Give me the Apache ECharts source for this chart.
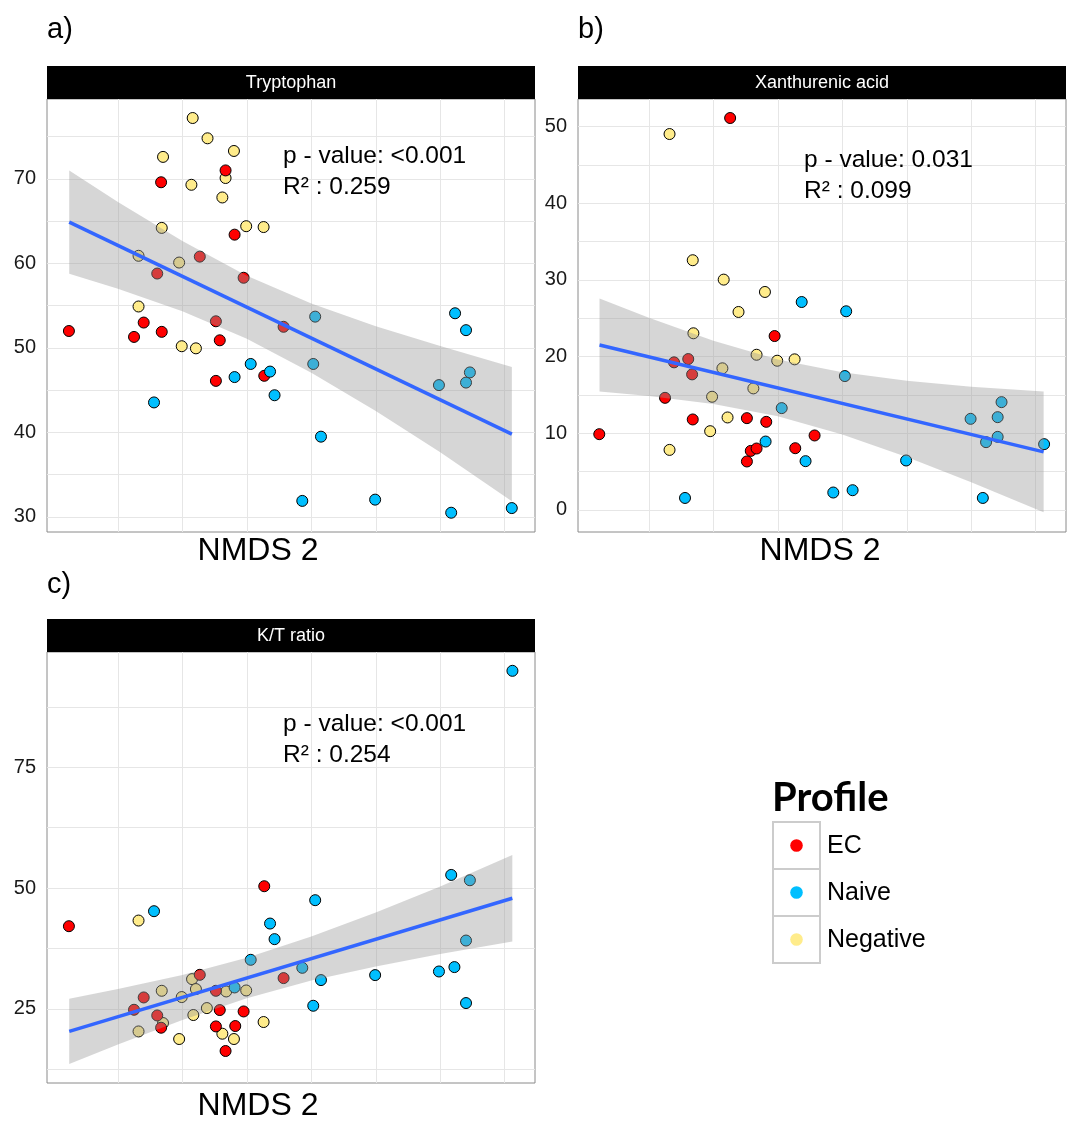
<!DOCTYPE html>
<html lang="en">
<head>
<meta charset="UTF-8">
<title>NMDS 2 vs metabolites</title>
<style>
  html, body { margin: 0; padding: 0; background: #fff; }
  #chart { width: 1072px; height: 1122px; }
</style>
</head>
<body>
<div id="chart"></div>
<script src="https://cdn.jsdelivr.net/npm/echarts@6.0.0/dist/echarts.min.js"></script>
<script>
// profiles + colours
var profiles = ['EC', 'Naive', 'Negative'];
var profileColors = ['#ff0000', '#00bfff', '#ffec8b'];

// x grid breaks (NMDS 2), no tick labels on x
var xBreaks = [-0.3, -0.2, -0.1, 0, 0.1, 0.2, 0.3];

// ---- a) Tryptophan ----
var trpEC = [[-0.133, 71.0], [-0.233, 69.6], [-0.119, 63.4], [-0.173, 60.8], [-0.239, 58.8], [-0.105, 58.3],
  [-0.260, 53.0], [-0.376, 52.0], [-0.275, 51.3], [-0.232, 51.9], [-0.148, 53.15], [-0.142, 50.9],
  [-0.043, 52.5], [-0.148, 46.1], [-0.073, 46.7]];
var trpNaive = [[0.223, 54.1], [0.240, 52.1], [0.006, 53.7], [0.003, 48.1], [-0.094, 48.1], [-0.064, 47.2],
  [-0.119, 46.55], [-0.057, 44.4], [-0.244, 43.55], [0.198, 45.6], [0.240, 45.9], [0.246, 47.1],
  [0.015, 39.5], [-0.014, 31.9], [0.099, 32.05], [0.217, 30.5], [0.311, 31.05]];
var trpNeg = [[-0.184, 77.2], [-0.161, 74.8], [-0.120, 73.3], [-0.230, 72.6], [-0.133, 70.1], [-0.186, 69.3],
  [-0.138, 67.8], [-0.232, 64.2], [-0.101, 64.4], [-0.074, 64.3], [-0.268, 60.9], [-0.205, 60.1],
  [-0.268, 54.9], [-0.201, 50.2], [-0.179, 49.95]];
var trpFit = [[-0.3755, 64.88], [0.3111, 39.8]];
var trpBandX = [-0.3755, -0.3, -0.2, -0.1, 0, 0.1, 0.2, 0.3111];
var trpUpper = [71.0, 67.27, 62.65, 58.55, 55.24, 52.57, 50.22, 47.74];
var trpLower = [58.77, 56.99, 54.34, 51.09, 47.06, 42.55, 37.67, 31.86];
var trpYBreaks = [30, 35, 40, 45, 50, 55, 60, 65, 70, 75];
var trpYLabels = [30, 40, 50, 60, 70];

// ---- b) Xanthurenic acid ----
var xaEC = [[-0.174, 51.1], [-0.105, 22.66], [-0.261, 19.23], [-0.239, 19.66], [-0.233, 17.66], [-0.275, 14.6],
  [-0.377, 9.86], [-0.232, 11.78], [-0.148, 11.95], [-0.118, 11.47], [-0.043, 9.69], [-0.142, 7.68],
  [-0.133, 7.99], [-0.148, 6.3], [-0.073, 8.03]];
var xaNaive = [[-0.063, 27.1], [0.006, 25.89], [0.004, 17.44], [-0.094, 13.26], [-0.119, 8.9], [-0.057, 6.34],
  [-0.244, 1.54], [-0.014, 2.25], [0.016, 2.55], [0.099, 6.43], [0.199, 11.86], [0.247, 14.04],
  [0.241, 12.08], [0.241, 9.51], [0.223, 8.82], [0.218, 1.54], [0.313, 8.56]];
var xaNeg = [[-0.268, 49.01], [-0.232, 32.55], [-0.184, 30.02], [-0.120, 28.41], [-0.161, 25.8], [-0.231, 23.02],
  [-0.133, 20.22], [-0.101, 19.44], [-0.074, 19.62], [-0.186, 18.45], [-0.138, 15.83], [-0.202, 14.74],
  [-0.178, 12.04], [-0.205, 10.25], [-0.268, 7.81]];
var xaFit = [[-0.3766, 21.49], [0.3123, 7.55]];
var xaBandX = [-0.3766, -0.3, -0.2, -0.1, 0, 0.1, 0.2, 0.3123];
var xaUpper = [27.55, 25.06, 22.04, 19.61, 17.94, 16.83, 16.05, 15.43];
var xaLower = [15.43, 14.84, 13.78, 12.19, 9.81, 6.87, 3.59, -0.33];
var xaYBreaks = [0, 5, 10, 15, 20, 25, 30, 35, 40, 45, 50];
var xaYLabels = [0, 10, 20, 30, 40, 50];

// ---- c) K/T ratio ----
var ktEC = [[-0.376, 42.1], [-0.073, 50.38], [-0.043, 31.35], [-0.173, 32.03], [-0.148, 28.72], [-0.260, 27.34],
  [-0.275, 24.79], [-0.239, 23.61], [-0.142, 24.73], [-0.105, 24.44], [-0.233, 21.07], [-0.148, 21.34],
  [-0.118, 21.42], [-0.133, 16.25]];
var ktNaive = [[0.312, 95.0], [0.217, 52.72], [0.246, 51.62], [0.006, 47.49], [-0.244, 45.21], [-0.064, 42.65],
  [-0.057, 39.42], [0.240, 39.13], [-0.094, 35.14], [-0.014, 33.48], [0.222, 33.63], [0.198, 32.72],
  [0.099, 31.97], [0.015, 30.94], [-0.119, 29.41], [0.003, 25.62], [0.240, 26.18]];
var ktNeg = [[-0.268, 43.27], [-0.185, 31.14], [-0.232, 28.72], [-0.179, 29.08], [-0.132, 28.58], [-0.101, 28.79],
  [-0.201, 27.42], [-0.162, 25.14], [-0.183, 23.7], [-0.268, 20.3], [-0.230, 22.04], [-0.205, 18.73],
  [-0.138, 19.83], [-0.120, 18.73], [-0.074, 22.25]];
var ktFit = [[-0.3755, 20.3], [0.3118, 47.9]];
var ktBandX = [-0.3755, -0.3, -0.2, -0.1, 0, 0.1, 0.2, 0.3118];
var ktUpper = [27.06, 29.08, 31.99, 35.55, 39.98, 44.94, 50.34, 56.87];
var ktLower = [13.55, 17.57, 22.68, 27.19, 30.83, 33.73, 36.32, 38.93];
var ktYBreaks = [12.5, 25, 37.5, 50, 62.5, 75, 87.5];
var ktYLabels = [25, 50, 75];

var panels = [
  { tag: 'a)', title: 'Tryptophan', pval: 'p - value: <0.001', r2: 'R\u00b2 : 0.259',
    grid: { left: 47, top: 99, width: 488, height: 433 }, yMin: 28.22, yMax: 79.45, yStep: 10,
    pts: [trpEC, trpNaive, trpNeg], fit: trpFit, bandX: trpBandX, up: trpUpper, lo: trpLower,
    yBreaks: trpYBreaks, yLabels: trpYLabels, textX: 283, textY: 156, labelX: 258, labelY: 551, tagY: 30 },
  { tag: 'b)', title: 'Xanthurenic acid', pval: 'p - value: 0.031', r2: 'R\u00b2 : 0.099',
    grid: { left: 578, top: 99, width: 488, height: 433 }, yMin: -2.9, yMax: 53.58, yStep: 10,
    pts: [xaEC, xaNaive, xaNeg], fit: xaFit, bandX: xaBandX, up: xaUpper, lo: xaLower,
    yBreaks: xaYBreaks, yLabels: xaYLabels, textX: 804, textY: 160, labelX: 820, labelY: 551, tagY: 30 },
  { tag: 'c)', title: 'K/T ratio', pval: 'p - value: <0.001', r2: 'R\u00b2 : 0.254',
    grid: { left: 47, top: 652, width: 488, height: 431 }, yMin: 9.62, yMax: 98.9, yStep: 25,
    pts: [ktEC, ktNaive, ktNeg], fit: ktFit, bandX: ktBandX, up: ktUpper, lo: ktLower,
    yBreaks: ktYBreaks, yLabels: ktYLabels, textX: 283, textY: 724, labelX: 258, labelY: 1106, tagY: 585 }
];

var baseFont = '"Liberation Sans", Arial, sans-serif';
var grids = [], xAxes = [], yAxes = [], series = [], graphics = [];

panels.forEach(function (p, gi) {
  grids.push({
    left: p.grid.left, top: p.grid.top, width: p.grid.width, height: p.grid.height,
    show: true, backgroundColor: '#fff', borderColor: '#8a8a8a', borderWidth: 1
  });
  xAxes.push({
    type: 'value', gridIndex: gi, min: -0.41, max: 0.347,
    axisLine: { show: false }, axisTick: { show: false },
    axisLabel: { show: false }, splitLine: { show: false }
  });
  var labels = p.yLabels;
  yAxes.push({
    type: 'value', gridIndex: gi, min: p.yMin, max: p.yMax,
    minInterval: p.yStep, maxInterval: p.yStep,
    axisLine: { show: false }, axisTick: { show: false }, splitLine: { show: false },
    axisLabel: {
      customValues: labels, margin: 11, color: '#1a1a1a', fontSize: 20, fontFamily: baseFont,
      formatter: function (v) { return labels.indexOf(v) >= 0 ? String(v) : ''; }
    }
  });

  // grid lines (kept under the points)
  var gl = xBreaks.map(function (v) { return { xAxis: v }; })
    .concat(p.yBreaks.map(function (v) { return { yAxis: v }; }));
  series.push({
    type: 'scatter', xAxisIndex: gi, yAxisIndex: gi, data: [], z: 0, silent: true,
    markLine: {
      z: 0, silent: true, symbol: ['none', 'none'], label: { show: false }, animation: false,
      lineStyle: { color: '#e6e6e6', width: 1, type: 'solid' },
      emphasis: { disabled: true },
      data: gl
    }
  });

  // points: Negative, EC, Naive
  [2, 0, 1].forEach(function (k) {
    series.push({
      type: 'scatter', name: profiles[k], xAxisIndex: gi, yAxisIndex: gi, z: 2,
      data: p.pts[k], symbolSize: 11,
      itemStyle: { color: profileColors[k], borderColor: '#000', borderWidth: 1, opacity: 1 }
    });
  });

  // confidence band (drawn over points like geom_smooth)
  series.push({
    type: 'custom', xAxisIndex: gi, yAxisIndex: gi, z: 3, silent: true,
    data: [[p.bandX[0], p.up[0]]],
    renderItem: function (params, api) {
      var pts = [];
      for (var i = 0; i < p.bandX.length; i++) pts.push(api.coord([p.bandX[i], p.up[i]]));
      for (var j = p.bandX.length - 1; j >= 0; j--) pts.push(api.coord([p.bandX[j], p.lo[j]]));
      return { type: 'polygon', shape: { points: pts }, style: { fill: 'rgba(153,153,153,0.4)' } };
    }
  });

  // fitted line
  series.push({
    type: 'line', xAxisIndex: gi, yAxisIndex: gi, z: 4, silent: true,
    data: p.fit, symbol: 'none', lineStyle: { color: '#3366ff', width: 3.5 }
  });

  // strip, annotations, labels
  graphics.push({
    type: 'rect', shape: { x: p.grid.left, y: p.grid.top - 33, width: p.grid.width, height: 33 },
    style: { fill: '#000' }
  });
  graphics.push({
    type: 'text', x: p.grid.left + p.grid.width / 2, y: p.grid.top - 16,
    style: { text: p.title, font: '18px ' + baseFont, fill: '#fff', align: 'center', verticalAlign: 'middle' }
  });
  graphics.push({
    type: 'text', x: p.textX, y: p.textY, z: 10,
    style: { text: p.pval, font: '24.5px ' + baseFont, fill: '#000', verticalAlign: 'middle' }
  });
  graphics.push({
    type: 'text', x: p.textX, y: p.textY + 31, z: 10,
    style: { text: p.r2, font: '24.5px ' + baseFont, fill: '#000', verticalAlign: 'middle' }
  });
  graphics.push({
    type: 'text', x: p.labelX, y: p.labelY,
    style: { text: 'NMDS 2', font: '32px ' + baseFont, fill: '#000', align: 'center', verticalAlign: 'middle' }
  });
  graphics.push({
    type: 'text', x: p.grid.left, y: p.tagY,
    style: { text: p.tag, font: '29px ' + baseFont, fill: '#000', verticalAlign: 'middle' }
  });
});

// legend
graphics.push({
  type: 'text', x: 772, y: 798,
  style: { text: 'Profile', font: 'bold 40px Lato, "Open Sans", sans-serif', fill: '#000', verticalAlign: 'middle' }
});
var keyTops = [822, 869, 916];
profiles.forEach(function (name, k) {
  graphics.push({
    type: 'rect', shape: { x: 773, y: keyTops[k], width: 47, height: 47 },
    style: { fill: '#fff', stroke: '#cccccc', lineWidth: 2 }
  });
  graphics.push({
    type: 'circle', shape: { cx: 796.5, cy: keyTops[k] + 23.5, r: 6.3 },
    style: { fill: profileColors[k] }
  });
  graphics.push({
    type: 'text', x: 827, y: keyTops[k] + 24.5,
    style: { text: name, font: '25px ' + baseFont, fill: '#000', verticalAlign: 'middle' }
  });
});

var chart = echarts.init(document.getElementById('chart'), null, { renderer: 'canvas' });
chart.setOption({
  backgroundColor: '#fff',
  animation: false,
  grid: grids,
  xAxis: xAxes,
  yAxis: yAxes,
  series: series,
  graphic: graphics
});
</script>
</body>
</html>
